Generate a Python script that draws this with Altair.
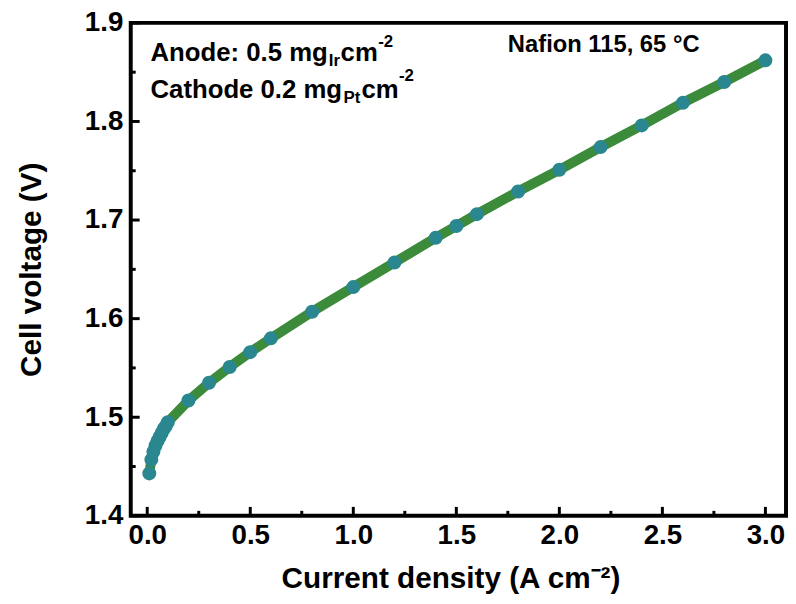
import altair as alt
import pandas as pd

# ---- data ----
current = [0.01, 0.02, 0.03, 0.04, 0.05, 0.06, 0.07, 0.08, 0.09, 0.10,
           0.2, 0.3, 0.4, 0.5, 0.6, 0.8, 1.0, 1.2, 1.4, 1.5, 1.6,
           1.8, 2.0, 2.2, 2.4, 2.6, 2.8, 3.0]
voltage = [1.443, 1.457, 1.465, 1.471, 1.476, 1.480, 1.484, 1.488, 1.491, 1.495,
           1.517, 1.535, 1.551, 1.566, 1.580, 1.607, 1.632, 1.657, 1.682, 1.694, 1.706,
           1.729, 1.751, 1.774, 1.796, 1.819, 1.840, 1.862]

x_major = [0.0, 0.5, 1.0, 1.5, 2.0, 2.5, 3.0]
x_minor = [0.25, 0.75, 1.25, 1.75, 2.25, 2.75]
y_major = [1.4, 1.5, 1.6, 1.7, 1.8, 1.9]
y_minor = [1.45, 1.55, 1.65, 1.75, 1.85]

x_title = "Current density (A cm\u207b\u00b2)"
y_title = "Cell voltage (V)"

# annotation pieces: text, size, x(px), y(px baseline)
ann_text = ["Anode: 0.5 mg", "Ir", "cm", "-2",
            "Cathode 0.2 mg", "Pt", "cm", "-2",
            "Nafion 115, 65 \u00b0C"]
ann_size = [26, 17, 26, 17, 26, 17, 26, 17, 24]
ann_x = [20, 200, 212, 250, 20, 215, 233, 271, 381]
ann_y = [39, 44, 39, 24, 76, 81, 76, 59, 29]

W, H = 662, 498
FONT = "Liberation Sans, Arial, sans-serif"
GREEN = "#3b8b3b"
TEAL = "#2a878f"

df = pd.DataFrame({"j": current, "v": voltage})

xs = alt.Scale(domain=[-0.08, 3.1], nice=False, zero=False)
ys = alt.Scale(domain=[1.4, 1.9], nice=False, zero=False)

xax = alt.Axis(values=x_major, format=".1f", domain=False, ticks=False,
               labelFontSize=28, labelFontWeight="bold", labelPadding=6,
               title=x_title, titleFontSize=30, titleFontWeight="bold",
               titleX=323, titleY=72, titleBaseline="alphabetic", grid=False)
yax = alt.Axis(values=y_major, format=".1f", domain=False, ticks=False,
               labelFontSize=28, labelFontWeight="bold", labelPadding=8,
               title=y_title, titleFontSize=30, titleFontWeight="bold",
               titleX=-100, titleY=249, titleAngle=-90, titleAlign="center",
               titleBaseline="middle", grid=False)

base = alt.Chart(df)
line = base.mark_line(color=GREEN, strokeWidth=10).encode(
    x=alt.X("j:Q", scale=xs, axis=xax),
    y=alt.Y("v:Q", scale=ys, axis=yax),
)
pts = base.mark_circle(color=TEAL, size=200, opacity=1).encode(
    x=alt.X("j:Q", scale=xs), y=alt.Y("v:Q", scale=ys))

xmaj = alt.Chart(pd.DataFrame({"t": x_major})).mark_rule(color="black", strokeWidth=3).encode(
    x=alt.X("t:Q", scale=xs), y=alt.value(H), y2=alt.value(H - 9))
xmin = alt.Chart(pd.DataFrame({"t": x_minor})).mark_rule(color="black", strokeWidth=3).encode(
    x=alt.X("t:Q", scale=xs), y=alt.value(H), y2=alt.value(H - 5))
ymaj = alt.Chart(pd.DataFrame({"t": y_major})).mark_rule(color="black", strokeWidth=3).encode(
    y=alt.Y("t:Q", scale=ys), x=alt.value(0), x2=alt.value(9))
ymin = alt.Chart(pd.DataFrame({"t": y_minor})).mark_rule(color="black", strokeWidth=3).encode(
    y=alt.Y("t:Q", scale=ys), x=alt.value(0), x2=alt.value(5))

ann_layers = []
for t, s, ax, ay in zip(ann_text, ann_size, ann_x, ann_y):
    ann_layers.append(
        alt.Chart(pd.DataFrame({"t": [t]})).mark_text(
            align="left", baseline="alphabetic", fontSize=s, font=FONT,
            fontWeight="bold", color="black"
        ).encode(text="t:N", x=alt.value(ax), y=alt.value(ay))
    )

chart = alt.layer(line, pts, xmaj, xmin, ymaj, ymin, *ann_layers).properties(
    width=W, height=H,
    background="white",
    autosize=alt.AutoSizeParams(type="none"),
    padding={"left": 124, "top": 12, "right": 2, "bottom": 80},
).configure_view(stroke="black", strokeWidth=4).configure_axis(
    labelFont=FONT, titleFont=FONT, labelColor="black", titleColor="black"
)

chart.save("out.html", embed_options={"renderer": "svg", "actions": False})
